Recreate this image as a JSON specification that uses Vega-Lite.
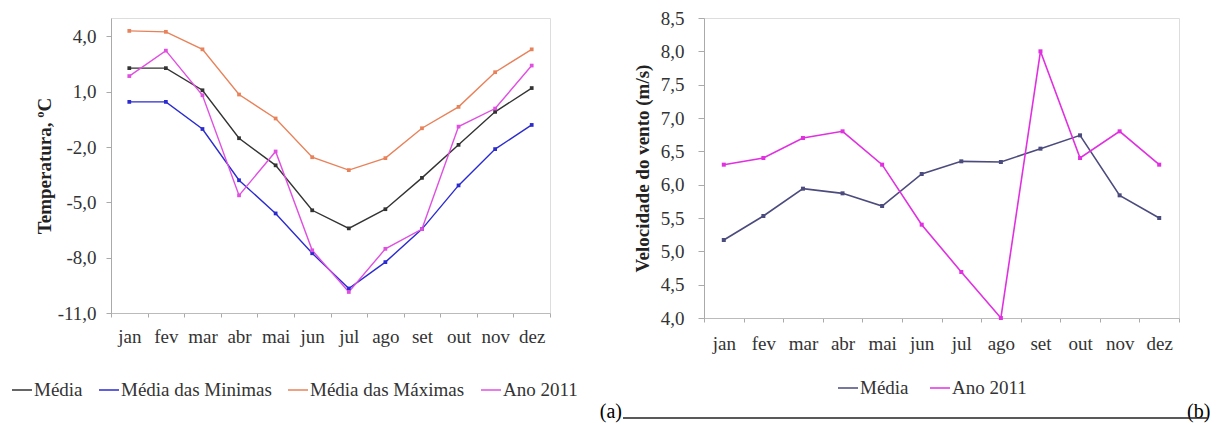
{
  "$schema": "https://vega.github.io/schema/vega-lite/v6.json",
  "background": "white",
  "padding": {"left": 10, "top": 8, "right": 2, "bottom": 0},
  "bounds": "flush",
  "config": {
    "font": "Liberation Serif",
    "view": {"stroke": "#dddddd", "strokeWidth": 1},
    "axis": {"labelFont": "Liberation Serif", "titleFont": "Liberation Serif", "labelFontSize": 19, "titleFontSize": 19, "labelColor": "#333333", "titleColor": "#222222", "domainColor": "#aaaaaa", "tickColor": "#aaaaaa", "grid": false},
    "legend": {"labelFont": "Liberation Serif", "labelFontSize": 19, "labelColor": "#333333"}
  },
  "datasets": {
    "temp": [
      {"mes": "jan", "serie": "Média", "v": 2.28}, {"mes": "fev", "serie": "Média", "v": 2.28}, {"mes": "mar", "serie": "Média", "v": 1.08}, {"mes": "abr", "serie": "Média", "v": -1.52}, {"mes": "mai", "serie": "Média", "v": -2.99}, {"mes": "jun", "serie": "Média", "v": -5.43}, {"mes": "jul", "serie": "Média", "v": -6.41}, {"mes": "ago", "serie": "Média", "v": -5.37}, {"mes": "set", "serie": "Média", "v": -3.67}, {"mes": "out", "serie": "Média", "v": -1.88}, {"mes": "nov", "serie": "Média", "v": -0.09}, {"mes": "dez", "serie": "Média", "v": 1.2},
      {"mes": "jan", "serie": "Média das Minimas", "v": 0.45}, {"mes": "fev", "serie": "Média das Minimas", "v": 0.45}, {"mes": "mar", "serie": "Média das Minimas", "v": -1.02}, {"mes": "abr", "serie": "Média das Minimas", "v": -3.8}, {"mes": "mai", "serie": "Média das Minimas", "v": -5.6}, {"mes": "jun", "serie": "Média das Minimas", "v": -7.76}, {"mes": "jul", "serie": "Média das Minimas", "v": -9.67}, {"mes": "ago", "serie": "Média das Minimas", "v": -8.24}, {"mes": "set", "serie": "Média das Minimas", "v": -6.45}, {"mes": "out", "serie": "Média das Minimas", "v": -4.08}, {"mes": "nov", "serie": "Média das Minimas", "v": -2.11}, {"mes": "dez", "serie": "Média das Minimas", "v": -0.8},
      {"mes": "jan", "serie": "Média das Máximas", "v": 4.3}, {"mes": "fev", "serie": "Média das Máximas", "v": 4.25}, {"mes": "mar", "serie": "Média das Máximas", "v": 3.3}, {"mes": "abr", "serie": "Média das Máximas", "v": 0.85}, {"mes": "mai", "serie": "Média das Máximas", "v": -0.45}, {"mes": "jun", "serie": "Média das Máximas", "v": -2.55}, {"mes": "jul", "serie": "Média das Máximas", "v": -3.25}, {"mes": "ago", "serie": "Média das Máximas", "v": -2.6}, {"mes": "set", "serie": "Média das Máximas", "v": -0.98}, {"mes": "out", "serie": "Média das Máximas", "v": 0.18}, {"mes": "nov", "serie": "Média das Máximas", "v": 2.06}, {"mes": "dez", "serie": "Média das Máximas", "v": 3.3},
      {"mes": "jan", "serie": "Ano 2011", "v": 1.85}, {"mes": "fev", "serie": "Ano 2011", "v": 3.23}, {"mes": "mar", "serie": "Ano 2011", "v": 0.81}, {"mes": "abr", "serie": "Ano 2011", "v": -4.62}, {"mes": "mai", "serie": "Ano 2011", "v": -2.24}, {"mes": "jun", "serie": "Ano 2011", "v": -7.6}, {"mes": "jul", "serie": "Ano 2011", "v": -9.86}, {"mes": "ago", "serie": "Ano 2011", "v": -7.52}, {"mes": "set", "serie": "Ano 2011", "v": -6.45}, {"mes": "out", "serie": "Ano 2011", "v": -0.89}, {"mes": "nov", "serie": "Ano 2011", "v": 0.09}, {"mes": "dez", "serie": "Ano 2011", "v": 2.42}
    ],
    "vento": [
      {"mes": "jan", "serie": "Média", "v": 5.17}, {"mes": "fev", "serie": "Média", "v": 5.53}, {"mes": "mar", "serie": "Média", "v": 5.94}, {"mes": "abr", "serie": "Média", "v": 5.87}, {"mes": "mai", "serie": "Média", "v": 5.68}, {"mes": "jun", "serie": "Média", "v": 6.16}, {"mes": "jul", "serie": "Média", "v": 6.35}, {"mes": "ago", "serie": "Média", "v": 6.34}, {"mes": "set", "serie": "Média", "v": 6.54}, {"mes": "out", "serie": "Média", "v": 6.74}, {"mes": "nov", "serie": "Média", "v": 5.84}, {"mes": "dez", "serie": "Média", "v": 5.5},
      {"mes": "jan", "serie": "Ano 2011", "v": 6.3}, {"mes": "fev", "serie": "Ano 2011", "v": 6.4}, {"mes": "mar", "serie": "Ano 2011", "v": 6.7}, {"mes": "abr", "serie": "Ano 2011", "v": 6.8}, {"mes": "mai", "serie": "Ano 2011", "v": 6.3}, {"mes": "jun", "serie": "Ano 2011", "v": 5.4}, {"mes": "jul", "serie": "Ano 2011", "v": 4.69}, {"mes": "ago", "serie": "Ano 2011", "v": 4.0}, {"mes": "set", "serie": "Ano 2011", "v": 8.0}, {"mes": "out", "serie": "Ano 2011", "v": 6.4}, {"mes": "nov", "serie": "Ano 2011", "v": 6.8}, {"mes": "dez", "serie": "Ano 2011", "v": 6.3}
    ]
  },
  "hconcat": [
    {
      "width": 439,
      "height": 295,
      "data": {"name": "temp"},
      "mark": {"type": "line", "strokeWidth": 1.4, "point": {"shape": "square", "size": 14, "filled": true}},
      "encoding": {
        "x": {"field": "mes", "type": "ordinal", "bandPosition": 0.5, "scale": {"type": "band", "domain": ["jan", "fev", "mar", "abr", "mai", "jun", "jul", "ago", "set", "out", "nov", "dez"], "paddingInner": 0, "paddingOuter": 0}, "axis": {"title": null, "labelAngle": 0, "tickBand": "extent", "tickSize": 4, "labelPadding": 10, "domainColor": "#bbbbbb"}},
        "y": {"field": "v", "type": "quantitative", "scale": {"domain": [-11, 5], "nice": false, "zero": false}, "axis": {"title": "Temperatura, ºC", "titleFontWeight": "bold", "values": [-11, -8, -5, -2, 1, 4], "labelExpr": "replace(replace(format(datum.value, '.1f'), '.', ','), '−', '-')", "tickSize": 5, "labelPadding": 10, "titlePadding": 3}},
        "color": {"field": "serie", "type": "nominal", "sort": ["Média", "Média das Minimas", "Média das Máximas", "Ano 2011"], "scale": {"domain": ["Média", "Média das Minimas", "Média das Máximas", "Ano 2011"], "range": ["#333333", "#2b2bd0", "#e8825a", "#e050e0"]}, "legend": {"title": null, "orient": "none", "legendX": -100, "legendY": 361, "direction": "horizontal", "symbolType": "stroke", "symbolSize": 400, "symbolStrokeWidth": 1.5, "labelOffset": 1, "columnPadding": 13}}
      }
    },
    {
      "width": 475,
      "height": 300,
      "encoding": {
        "x": {"field": "mes", "type": "ordinal", "scale": {"type": "band", "domain": ["jan", "fev", "mar", "abr", "mai", "jun", "jul", "ago", "set", "out", "nov", "dez"], "paddingInner": 0, "paddingOuter": 0}, "axis": {"title": null, "labelAngle": 0, "tickBand": "extent", "tickSize": 4, "labelPadding": 12, "domainColor": "#bbbbbb"}},
        "y": {"field": "v", "type": "quantitative", "scale": {"domain": [4, 8.5], "nice": false, "zero": false}, "axis": {"title": "Velocidade do vento (m/s)", "titleFontWeight": "bold", "values": [4, 4.5, 5, 5.5, 6, 6.5, 7, 7.5, 8, 8.5], "labelExpr": "replace(format(datum.value, '.1f'), '.', ',')", "tickSize": 6, "labelPadding": 14, "titlePadding": 8}}
      },
      "layer": [
        {
          "data": {"name": "vento"},
          "mark": {"type": "line", "strokeWidth": 1.6, "point": {"shape": "square", "size": 16, "filled": true}},
          "encoding": {
            "x": {"field": "mes", "type": "ordinal", "bandPosition": 0.5},
            "color": {"field": "serie", "type": "nominal", "sort": ["Média", "Ano 2011"], "scale": {"domain": ["Média", "Ano 2011"], "range": ["#4b4b7d", "#e030e0"]}, "legend": {"title": null, "orient": "none", "legendX": 133, "legendY": 359, "direction": "horizontal", "symbolType": "stroke", "symbolSize": 400, "symbolStrokeWidth": 1.5, "labelOffset": 1, "columnPadding": 18}}
          }
        },
        {
          "data": {"values": [{"mes": "jan", "v": 4, "label": "(a)"}]},
          "mark": {"type": "text", "fontSize": 20, "color": "black", "align": "right", "baseline": "alphabetic", "xOffset": -82, "yOffset": 100},
          "encoding": {"x": {"field": "mes", "type": "ordinal", "bandPosition": 0}, "text": {"field": "label"}}
        },
        {
          "data": {"values": [{"mes": "dez", "v": 4, "label": "(b)"}]},
          "mark": {"type": "text", "fontSize": 20, "color": "black", "align": "left", "baseline": "alphabetic", "xOffset": 8, "yOffset": 100},
          "encoding": {"x": {"field": "mes", "type": "ordinal", "bandPosition": 1}, "text": {"field": "label"}}
        },
        {
          "data": {"values": [{"mes": "jan", "ate": "dez", "v": 4}]},
          "mark": {"type": "rule", "color": "#222222", "strokeWidth": 1.3, "xOffset": -81, "x2Offset": 48, "yOffset": 100},
          "encoding": {"x": {"field": "mes", "type": "ordinal", "bandPosition": 0}, "x2": {"field": "ate"}}
        }
      ]
    }
  ],
  "spacing": 154,
  "resolve": {"scale": {"color": "independent"}}
}
